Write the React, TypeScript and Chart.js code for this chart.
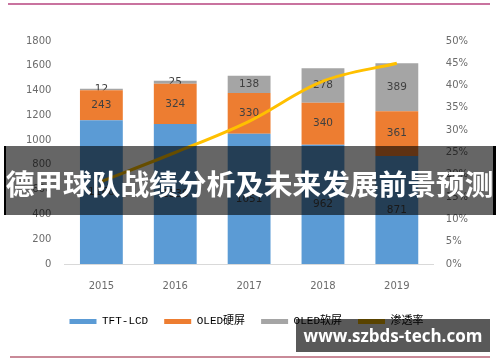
import React, { useEffect, useRef } from "react";
import { Chart, registerables } from "chart.js";

Chart.register(...registerables);

const years = ["2015", "2016", "2017", "2018", "2019"];
const tftLcd = [1160, 1130, 1051, 962, 871];
const oledRigid = [243, 324, 330, 340, 361];
const oledFlexible = [12, 25, 138, 278, 389];
const penetration = [18.5, 25, 32, 41, 45];
const seriesNames = ["TFT-LCD", "OLED硬屏", "OLED软屏", "渗透率"];
const seriesColors = ["#5b9bd5", "#ed7d31", "#a5a5a5", "#ffc000"];
const titleText = "德甲球队战绩分析及未来发展前景预测";
const watermarkText = "www.szbds-tech.com";

const tickFont = { family: "'DejaVu Sans', sans-serif", size: 10 };
const tickColor = "#6b6b6b";

const barLabels = {
  id: "barLabels",
  afterDatasetDraw(chart: any, args: any) {
    const ds = chart.data.datasets[args.index];
    if (ds.type === "line") return;
    const ctx = chart.ctx;
    ctx.save();
    ctx.font = "10.5px 'DejaVu Sans', sans-serif";
    ctx.fillStyle = "#404040";
    ctx.textAlign = "center";
    ctx.textBaseline = "middle";
    args.meta.data.forEach((bar: any, i: number) => {
      const p = bar.getProps(["x", "y", "base"], true);
      ctx.fillText(String(ds.data[i]), p.x, (p.y + p.base) / 2);
    });
    ctx.restore();
  },
};

export default function App() {
  const canvasRef = useRef<HTMLCanvasElement | null>(null);

  useEffect(() => {
    if (!canvasRef.current) return;
    const chart = new Chart(canvasRef.current, {
      type: "bar",
      data: {
        labels: years,
        datasets: [
          { type: "bar", label: seriesNames[0], data: tftLcd, backgroundColor: seriesColors[0], yAxisID: "y", order: 1, categoryPercentage: 1, barPercentage: 0.58 },
          { type: "bar", label: seriesNames[1], data: oledRigid, backgroundColor: seriesColors[1], yAxisID: "y", order: 1, categoryPercentage: 1, barPercentage: 0.58 },
          { type: "bar", label: seriesNames[2], data: oledFlexible, backgroundColor: seriesColors[2], yAxisID: "y", order: 1, categoryPercentage: 1, barPercentage: 0.58 },
          { type: "line", label: seriesNames[3], data: penetration, borderColor: seriesColors[3], backgroundColor: seriesColors[3], borderWidth: 3, pointRadius: 0, tension: 0.35, yAxisID: "y1", order: 0 },
        ] as any,
      },
      options: {
        animation: false,
        responsive: false,
        maintainAspectRatio: false,
        layout: { padding: { left: 13, right: 20, top: 41, bottom: 25 } },
        plugins: {
          tooltip: { enabled: false },
          legend: {
            position: "bottom",
            labels: {
              boxWidth: 27,
              boxHeight: 5,
              padding: 16,
              color: "#6b6b6b",
              font: { family: "'Liberation Mono', 'Noto Sans CJK SC', monospace", size: 11 },
              generateLabels: (c: any) =>
                c.data.datasets.map((d: any, i: number) => ({
                  text: d.label,
                  fillStyle: seriesColors[i],
                  strokeStyle: seriesColors[i],
                  lineWidth: 0,
                  hidden: false,
                  datasetIndex: i,
                })),
            },
          },
        },
        scales: {
          x: {
            stacked: true,
            grid: { display: false, drawTicks: false },
            border: { display: true, color: "#d9d9d9", width: 1 },
            ticks: { padding: 16, color: tickColor, font: tickFont },
            afterFit: (s: any) => { s.height -= 8; },
          },
          y: {
            stacked: true,
            min: 0,
            max: 1800,
            grid: { display: false, drawTicks: false },
            border: { display: false },
            ticks: { stepSize: 200, padding: 13, color: tickColor, font: tickFont, callback: (v: any) => String(v) },
          },
          y1: {
            position: "right",
            min: 0,
            max: 50,
            grid: { display: false, drawTicks: false },
            border: { display: false },
            ticks: { stepSize: 5, padding: 12, color: tickColor, font: tickFont, callback: (v: any) => v + "%" },
          },
        } as any,
      },
      plugins: [barLabels],
    } as any);
    return () => chart.destroy();
  }, []);

  return (
    <div style={{ position: "absolute", left: 0, top: 0, width: 500, height: 362, background: "#fff", overflow: "hidden" }}>
      <div style={{ position: "absolute", left: 8, top: 3, width: 482, height: 2, background: "#c9739f" }} />
      <canvas ref={canvasRef} width={500} height={362} style={{ position: "absolute", left: 0, top: 0, display: "block" }} />
      <div style={{ position: "absolute", left: 10, top: 356, width: 480, height: 2, background: "#c98a98" }} />
      <div
        style={{
          position: "absolute", left: 4, top: 146, width: 492, height: 69, boxSizing: "border-box",
          background: "rgba(0,0,0,0.6)", borderLeft: "2px solid #000", borderRight: "3px solid #000",
          display: "flex", alignItems: "center", justifyContent: "center", paddingTop: 6,
        }}
      >
        <span style={{ color: "#fff", fontWeight: 700, fontSize: 28.7, fontFamily: "'Noto Sans CJK SC', sans-serif", whiteSpace: "nowrap", lineHeight: 1 }}>
          {titleText}
        </span>
      </div>
      <div
        style={{
          position: "absolute", left: 296, top: 319, width: 194, height: 33, background: "rgba(0,0,0,0.65)",
          display: "flex", alignItems: "center", justifyContent: "center",
        }}
      >
        <span style={{ color: "#fff", fontWeight: 700, fontSize: 17, fontFamily: "'Open Sans', 'Noto Sans', sans-serif", whiteSpace: "nowrap", lineHeight: 1 }}>
          {watermarkText}
        </span>
      </div>
    </div>
  );
}
